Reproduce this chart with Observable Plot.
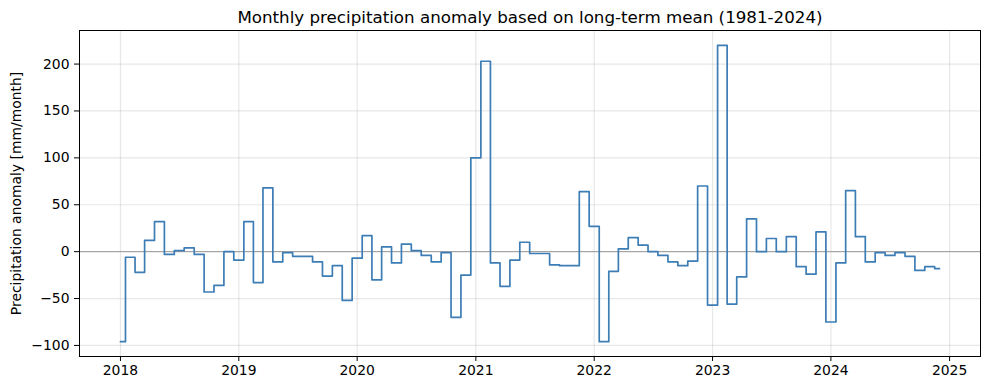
<!DOCTYPE html>
<html><head><meta charset="utf-8">
<script src="https://cdn.jsdelivr.net/npm/d3@7"></script>
<script src="https://cdn.jsdelivr.net/npm/@observablehq/plot@0.6"></script>
<style>body{margin:0;background:#fff}</style>
</head><body><div id="chart"></div>
<script>
const years = [2018, 2019, 2020, 2021, 2022, 2023, 2024];
const anomaly2018 = [-96, -6, -22, 12, 32, -3, 1, 4, -3, -43, -36, 0];
const anomaly2019 = [-9, 32, -33, 68, -11, -1, -5, -5, -11, -26, -15, -52];
const anomaly2020 = [-7, 17, -30, 5, -12, 8, 1, -4, -11, -1, -70, -25];
const anomaly2021 = [100, 203, -12, -37, -9, 10, -2, -2, -14, -15, -15, 64];
const anomaly2022 = [27, -96, -21, 3, 15, 7, 0, -4, -11, -15, -10, 70];
const anomaly2023 = [-57, 220, -56, -27, 35, 0, 14, 0, 16, -16, -24, 21];
const anomaly2024 = [-75, -12, 65, 16, -11, -1, -4, -1, -5, -20, -16, -18];
const xTickYears = [2018, 2019, 2020, 2021, 2022, 2023, 2024, 2025];
const yTicks = [-100, -50, 0, 50, 100, 150, 200];
const titleText = "Monthly precipitation anomaly based on long-term mean (1981-2024)";
const yLabelText = "Precipitation anomaly [mm/month]";

const series = [anomaly2018, anomaly2019, anomaly2020, anomaly2021, anomaly2022, anomaly2023, anomaly2024];
const data = years.flatMap((yr, i) => series[i].map((v, m) => ({date: new Date(Date.UTC(yr, m, 1)), value: v})));
const xTicks = xTickYears.map(y => new Date(Date.UTC(y, 0, 1)));

const [xa, xb] = d3.extent(data, d => d.date);
const xp = (xb - xa) * 0.05;
const [ya, yb] = d3.extent(data, d => d.value);
const yp = (yb - ya) * 0.05;

const chart = Plot.plot({
  width: 989,
  height: 390,
  marginLeft: 79,
  marginRight: 9,
  marginTop: 30,
  marginBottom: 34,
  style: {fontFamily: "DejaVu Sans", fontSize: "13.9px", background: "white", color: "black"},
  x: {type: "utc", domain: [new Date(+xa - xp), new Date(+xb + xp)]},
  y: {domain: [ya - yp, yb + yp]},
  marks: [
    Plot.gridX(xTicks, {stroke: "#b0b0b0", strokeOpacity: 0.3, strokeWidth: 1.2}),
    Plot.gridY(yTicks, {stroke: "#b0b0b0", strokeOpacity: 0.3, strokeWidth: 1.2}),
    Plot.ruleY([0], {stroke: "#999999", strokeWidth: 1}),
    Plot.line(data, {x: "date", y: "value", curve: "step", stroke: "#3d7db5", strokeWidth: 1.7}),
    Plot.axisX(xTicks, {tickFormat: d => String(d.getUTCFullYear()), tickSize: 5, tickPadding: 4, label: null, fontSize: 13.9}),
    Plot.axisY(yTicks, {tickFormat: d3.format("d"), tickSize: 5, tickPadding: 5, label: null, fontSize: 13.9}),
    Plot.frame({stroke: "black", strokeWidth: 1}),
    Plot.text([titleText], {text: d => d, frameAnchor: "top", dy: -8, lineAnchor: "bottom", textAnchor: "middle", fontSize: 16.7, fill: "black"}),
    Plot.text([yLabelText], {text: d => d, frameAnchor: "left", rotate: -90, dx: -63, lineAnchor: "middle", textAnchor: "middle", fontSize: 13.9, fill: "black"})
  ]
});
document.getElementById("chart").appendChild(chart);
</script>
</body></html>
